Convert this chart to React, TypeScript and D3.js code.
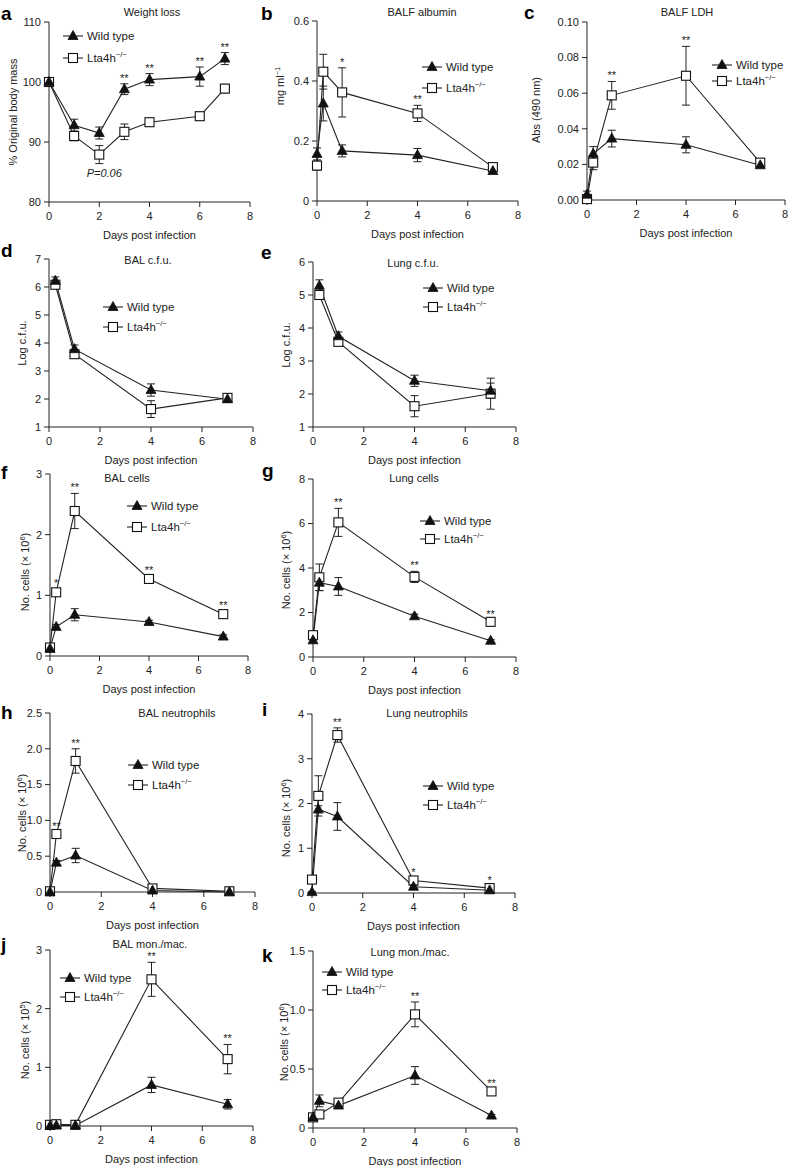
import React from 'react';
import * as d3 from 'd3';

// ---- data ----
const DAYS_WEIGHT = [0, 1, 2, 3, 4, 6, 7];
const DAYS_BALF = [0, 0.25, 1, 4, 7];
const DAYS_CFU = [0.25, 1, 4, 7];
const DAYS_CELLS = [0, 0.25, 1, 4, 7];

const WEIGHT_WT = [100, 92.8, 91.5, 98.8, 100.4, 100.9, 103.9];
const WEIGHT_WT_ERR = [0.3, 1.0, 1.0, 0.9, 1.0, 1.6, 1.0];
const WEIGHT_KO = [100, 91.0, 87.9, 91.7, 93.3, 94.3, 98.9];
const WEIGHT_KO_ERR = [0.3, 0.8, 1.5, 1.3, 0.5, 0.5, 0.7];

const ALB_WT = [0.157, 0.325, 0.167, 0.153, 0.1];
const ALB_WT_ERR = [0.02, 0.058, 0.02, 0.022, 0.008];
const ALB_KO = [0.118, 0.431, 0.362, 0.292, 0.113];
const ALB_KO_ERR = [0.015, 0.058, 0.082, 0.027, 0.01];

const LDH_WT = [0.003, 0.026, 0.0345, 0.031, 0.0195];
const LDH_WT_ERR = [0.002, 0.004, 0.0047, 0.0045, 0.001];
const LDH_KO = [0.0005, 0.021, 0.0588, 0.0698, 0.021];
const LDH_KO_ERR = [0.001, 0.004, 0.0078, 0.0165, 0.001];

const BALCFU_WT = [6.22, 3.78, 2.32, 1.99];
const BALCFU_WT_ERR = [0.14, 0.15, 0.22, 0.05];
const BALCFU_KO = [6.08, 3.6, 1.64, 2.04];
const BALCFU_KO_ERR = [0.12, 0.08, 0.3, 0.1];

const LUNGCFU_WT = [5.28, 3.75, 2.4, 2.1];
const LUNGCFU_WT_ERR = [0.18, 0.13, 0.17, 0.23];
const LUNGCFU_KO = [5.0, 3.58, 1.63, 2.01];
const LUNGCFU_KO_ERR = [0.1, 0.07, 0.32, 0.47];

const BALCELLS_WT = [0.12, 0.48, 0.68, 0.56, 0.32];
const BALCELLS_WT_ERR = [0.03, 0.04, 0.1, 0.03, 0.03];
const BALCELLS_KO = [0.14, 1.05, 2.39, 1.27, 0.69];
const BALCELLS_KO_ERR = [0.05, 0.05, 0.29, 0.05, 0.05];

const LUNGCELLS_WT = [0.75, 3.34, 3.17, 1.83, 0.73];
const LUNGCELLS_WT_ERR = [0.1, 0.35, 0.4, 0.1, 0.05];
const LUNGCELLS_KO = [0.98, 3.58, 6.05, 3.6, 1.58];
const LUNGCELLS_KO_ERR = [0.1, 0.6, 0.63, 0.25, 0.1];

const BALNEU_WT = [0.0, 0.41, 0.51, 0.02, 0.0];
const BALNEU_WT_ERR = [0.01, 0.03, 0.1, 0.01, 0.01];
const BALNEU_KO = [0.01, 0.81, 1.83, 0.05, 0.01];
const BALNEU_KO_ERR = [0.01, 0.03, 0.17, 0.02, 0.01];

const LUNGNEU_WT = [0.02, 1.87, 1.71, 0.14, 0.06];
const LUNGNEU_WT_ERR = [0.01, 0.08, 0.31, 0.03, 0.02];
const LUNGNEU_KO = [0.3, 2.17, 3.53, 0.28, 0.11];
const LUNGNEU_KO_ERR = [0.03, 0.45, 0.16, 0.05, 0.04];

const BALMAC_WT = [0.0, 0.01, 0.01, 0.7, 0.37];
const BALMAC_WT_ERR = [0.01, 0.01, 0.01, 0.13, 0.08];
const BALMAC_KO = [0.02, 0.03, 0.02, 2.5, 1.14];
const BALMAC_KO_ERR = [0.02, 0.02, 0.02, 0.29, 0.25];

const LUNGMAC_WT = [0.09, 0.23, 0.19, 0.445, 0.105];
const LUNGMAC_WT_ERR = [0.02, 0.05, 0.02, 0.075, 0.01];
const LUNGMAC_KO = [0.09, 0.115, 0.215, 0.963, 0.31];
const LUNGMAC_KO_ERR = [0.02, 0.03, 0.02, 0.105, 0.02];

const X_TICKS = [0, 2, 4, 6, 8];
const X_LABEL = 'Days post infection';
const WT_LABEL = 'Wild type';

const FONT = "'Liberation Sans', Arial, Helvetica, sans-serif";

type Star = { x: number; t: string };
type PanelDef = {
  letter: string;
  title: string;
  ylabel: string;
  ysup?: string;
  ytail?: string;
  days: number[];
  wt: number[];
  wtErr: number[];
  ko: number[];
  koErr: number[];
  yDomain: [number, number];
  yTicks: number[];
  yFmt: (v: number) => string;
  stars: Star[];
  note?: { x: number; y: number; t: string };
  // layout
  x0: number; x1: number; yt: number; yb: number;
  lx: number; ly: number; ly2: number;
  tx: number; ty: number;
  letterX: number; letterY: number;
  ylx: number; yly: number;
};

const plain = (v: number) => String(v);
const oneDec = (v: number) => (v === 0 ? '0' : d3.format('.1f')(v));
const twoDec = d3.format('.2f');

const PANELS: PanelDef[] = [
  {
    letter: 'a', title: 'Weight loss', ylabel: '% Original body mass',
    days: DAYS_WEIGHT, wt: WEIGHT_WT, wtErr: WEIGHT_WT_ERR, ko: WEIGHT_KO, koErr: WEIGHT_KO_ERR,
    yDomain: [80, 110], yTicks: [80, 90, 100, 110], yFmt: plain,
    stars: [{ x: 3, t: '**' }, { x: 4, t: '**' }, { x: 6, t: '**' }, { x: 7, t: '**' }],
    note: { x: 2.2, y: 84.8, t: 'P=0.06' },
    x0: 49, x1: 250, yt: 22, yb: 202, lx: 73, ly: 36, ly2: 58, tx: 152, ty: 16,
    letterX: 1, letterY: 20, ylx: 13, yly: 112,
  },
  {
    letter: 'b', title: 'BALF albumin', ylabel: 'mg ml', ysup: '\u22121',
    days: DAYS_BALF, wt: ALB_WT, wtErr: ALB_WT_ERR, ko: ALB_KO, koErr: ALB_KO_ERR,
    yDomain: [0, 0.6], yTicks: [0, 0.2, 0.4, 0.6], yFmt: plain,
    stars: [{ x: 1, t: '*' }, { x: 4, t: '**' }],
    x0: 317, x1: 518, yt: 21, yb: 201, lx: 432, ly: 67, ly2: 88, tx: 422, ty: 16,
    letterX: 261, letterY: 20, ylx: 280, yly: 86,
  },
  {
    letter: 'c', title: 'BALF LDH', ylabel: 'Abs (490 nm)',
    days: DAYS_BALF, wt: LDH_WT, wtErr: LDH_WT_ERR, ko: LDH_KO, koErr: LDH_KO_ERR,
    yDomain: [0, 0.1], yTicks: [0, 0.02, 0.04, 0.06, 0.08, 0.1], yFmt: twoDec,
    stars: [{ x: 1, t: '**' }, { x: 4, t: '**' }],
    x0: 587, x1: 785, yt: 22, yb: 200, lx: 722, ly: 65, ly2: 81, tx: 687, ty: 16,
    letterX: 524, letterY: 19, ylx: 536, yly: 110,
  },
  {
    letter: 'd', title: 'BAL c.f.u.', ylabel: 'Log c.f.u.',
    days: DAYS_CFU, wt: BALCFU_WT, wtErr: BALCFU_WT_ERR, ko: BALCFU_KO, koErr: BALCFU_KO_ERR,
    yDomain: [1, 7], yTicks: [1, 2, 3, 4, 5, 6, 7], yFmt: plain, stars: [],
    x0: 49, x1: 253, yt: 259, yb: 427, lx: 113, ly: 307, ly2: 327, tx: 148, ty: 264,
    letterX: 1, letterY: 257, ylx: 22, yly: 343,
  },
  {
    letter: 'e', title: 'Lung c.f.u.', ylabel: 'Log c.f.u.',
    days: DAYS_CFU, wt: LUNGCFU_WT, wtErr: LUNGCFU_WT_ERR, ko: LUNGCFU_KO, koErr: LUNGCFU_KO_ERR,
    yDomain: [1, 6], yTicks: [1, 2, 3, 4, 5, 6], yFmt: plain, stars: [],
    x0: 313, x1: 516, yt: 262, yb: 427, lx: 433, ly: 288, ly2: 307, tx: 413, ty: 267,
    letterX: 261, letterY: 259, ylx: 286, yly: 345,
  },
  {
    letter: 'f', title: 'BAL cells', ylabel: 'No. cells (\u00d7 10', ysup: '6', ytail: ')',
    days: DAYS_CELLS, wt: BALCELLS_WT, wtErr: BALCELLS_WT_ERR, ko: BALCELLS_KO, koErr: BALCELLS_KO_ERR,
    yDomain: [0, 3], yTicks: [0, 1, 2, 3], yFmt: plain,
    stars: [{ x: 0.25, t: '*' }, { x: 1, t: '**' }, { x: 4, t: '**' }, { x: 7, t: '**' }],
    x0: 50, x1: 248, yt: 474, yb: 656, lx: 137, ly: 506, ly2: 527, tx: 127, ty: 482,
    letterX: 1, letterY: 479, ylx: 25, yly: 572,
  },
  {
    letter: 'g', title: 'Lung cells', ylabel: 'No. cells (\u00d7 10', ysup: '6', ytail: ')',
    days: DAYS_CELLS, wt: LUNGCELLS_WT, wtErr: LUNGCELLS_WT_ERR, ko: LUNGCELLS_KO, koErr: LUNGCELLS_KO_ERR,
    yDomain: [0, 8], yTicks: [0, 2, 4, 6, 8], yFmt: plain,
    stars: [{ x: 1, t: '**' }, { x: 4, t: '**' }, { x: 7, t: '**' }],
    x0: 313, x1: 516, yt: 479, yb: 657, lx: 430, ly: 521, ly2: 539, tx: 414, ty: 482,
    letterX: 262, letterY: 477, ylx: 286, yly: 570,
  },
  {
    letter: 'h', title: 'BAL neutrophils', ylabel: 'No. cells (\u00d7 10', ysup: '6', ytail: ')',
    days: DAYS_CELLS, wt: BALNEU_WT, wtErr: BALNEU_WT_ERR, ko: BALNEU_KO, koErr: BALNEU_KO_ERR,
    yDomain: [0, 2.5], yTicks: [0, 0.5, 1, 1.5, 2, 2.5], yFmt: oneDec,
    stars: [{ x: 0.25, t: '**' }, { x: 1, t: '**' }],
    x0: 50, x1: 255, yt: 713, yb: 892, lx: 138, ly: 765, ly2: 785, tx: 177, ty: 717,
    letterX: 1, letterY: 719, ylx: 22, yly: 813,
  },
  {
    letter: 'i', title: 'Lung neutrophils', ylabel: 'No. cells (\u00d7 10', ysup: '6', ytail: ')',
    days: DAYS_CELLS, wt: LUNGNEU_WT, wtErr: LUNGNEU_WT_ERR, ko: LUNGNEU_KO, koErr: LUNGNEU_KO_ERR,
    yDomain: [0, 4], yTicks: [0, 1, 2, 3, 4], yFmt: plain,
    stars: [{ x: 1, t: '**' }, { x: 4, t: '*' }, { x: 7, t: '*' }],
    x0: 312, x1: 515, yt: 714, yb: 893, lx: 433, ly: 786, ly2: 805, tx: 427, ty: 717,
    letterX: 262, letterY: 716, ylx: 286, yly: 818,
  },
  {
    letter: 'j', title: 'BAL mon./mac.', ylabel: 'No. cells (\u00d7 10', ysup: '5', ytail: ')',
    days: DAYS_CELLS, wt: BALMAC_WT, wtErr: BALMAC_WT_ERR, ko: BALMAC_KO, koErr: BALMAC_KO_ERR,
    yDomain: [0, 3], yTicks: [0, 1, 2, 3], yFmt: plain,
    stars: [{ x: 4, t: '**' }, { x: 7, t: '**' }],
    x0: 50, x1: 253, yt: 950, yb: 1126, lx: 70, ly: 978, ly2: 997, tx: 150, ty: 948,
    letterX: 1, letterY: 951, ylx: 25, yly: 1040,
  },
  {
    letter: 'k', title: 'Lung mon./mac.', ylabel: 'No. cells (\u00d7 10', ysup: '6', ytail: ')',
    days: DAYS_CELLS, wt: LUNGMAC_WT, wtErr: LUNGMAC_WT_ERR, ko: LUNGMAC_KO, koErr: LUNGMAC_KO_ERR,
    yDomain: [0, 1.5], yTicks: [0, 0.5, 1, 1.5], yFmt: oneDec,
    stars: [{ x: 4, t: '**' }, { x: 7, t: '**' }],
    x0: 313, x1: 517, yt: 951, yb: 1128, lx: 332, ly: 972, ly2: 990, tx: 410, ty: 956,
    letterX: 262, letterY: 962, ylx: 284, yly: 1042,
  },
];

const TRI = 'M0,-5.5L5,3.5L-5,3.5Z';

function Marker({ cx, cy, kind }: { cx: number; cy: number; kind: 'wt' | 'ko' }) {
  if (kind === 'wt') {
    return <path d={TRI} transform={`translate(${cx},${cy})`} fill="#111" stroke="#111" strokeWidth={0.8} />;
  }
  return <rect x={cx - 4.5} y={cy - 4.5} width={9} height={9} fill="#fff" stroke="#111" strokeWidth={1.1} />;
}

function Panel({ p }: { p: PanelDef }) {
  const x = d3.scaleLinear().domain([0, 8]).range([p.x0, p.x1]);
  const y = d3.scaleLinear().domain(p.yDomain).range([p.yb, p.yt]);
  const line = d3.line<number>().x((_, i) => x(p.days[i])).y((v) => y(v));

  const series = [
    { kind: 'ko' as const, vals: p.ko, errs: p.koErr },
    { kind: 'wt' as const, vals: p.wt, errs: p.wtErr },
  ];

  // asterisks sit just above the highest error bar at that day
  const starY = (dx: number) => {
    const i = p.days.indexOf(dx);
    const top = Math.max(p.wt[i] + p.wtErr[i], p.ko[i] + p.koErr[i]);
    return y(top) - 2;
  };

  return (
    <g fontFamily={FONT} fill="#222">
      <text x={p.letterX} y={p.letterY} fontSize={19} fontWeight="bold" fill="#000">{p.letter}</text>
      <text x={p.tx} y={p.ty} fontSize={11} textAnchor="middle">{p.title}</text>

      {/* axes */}
      <line x1={p.x0} x2={p.x0} y1={p.yt} y2={p.yb} stroke="#222" strokeWidth={1} />
      <line x1={p.x0} x2={p.x1} y1={p.yb} y2={p.yb} stroke="#222" strokeWidth={1} />
      {p.yTicks.map((t) => (
        <g key={'y' + t}>
          <line x1={p.x0 - 5} x2={p.x0} y1={y(t)} y2={y(t)} stroke="#222" />
          <text x={p.x0 - 8} y={y(t)} dy="0.35em" fontSize={11} textAnchor="end">{p.yFmt(t)}</text>
        </g>
      ))}
      {X_TICKS.map((t) => (
        <g key={'x' + t}>
          <line x1={x(t)} x2={x(t)} y1={p.yb} y2={p.yb + 5} stroke="#222" />
          <text x={x(t)} y={p.yb + 18} fontSize={11} textAnchor="middle">{t}</text>
        </g>
      ))}
      <text x={(p.x0 + p.x1) / 2} y={p.yb + 37} fontSize={11} textAnchor="middle">{X_LABEL}</text>
      <text transform={`translate(${p.ylx},${p.yly}) rotate(-90)`} fontSize={11} textAnchor="middle" dy="0.35em">
        {p.ylabel}
        {p.ysup && <tspan dy={-4} fontSize={7.5}>{p.ysup}</tspan>}
        {p.ytail && <tspan dy={4}>{p.ytail}</tspan>}
      </text>

      {/* lines */}
      {series.map((s) => (
        <path key={'l' + s.kind} d={line(s.vals) || ''} fill="none" stroke="#222" strokeWidth={1.1} />
      ))}
      {/* error bars */}
      {series.map((s) =>
        s.vals.map((v, i) => {
          const cx = x(p.days[i]);
          const hi = y(v + s.errs[i]);
          const lo = y(v - s.errs[i]);
          return (
            <g key={`e${s.kind}${i}`} stroke="#222" strokeWidth={1}>
              <line x1={cx} x2={cx} y1={hi} y2={lo} />
              <line x1={cx - 4} x2={cx + 4} y1={hi} y2={hi} />
              <line x1={cx - 4} x2={cx + 4} y1={lo} y2={lo} />
            </g>
          );
        })
      )}
      {/* markers */}
      {series.map((s) =>
        s.vals.map((v, i) => <Marker key={`m${s.kind}${i}`} cx={x(p.days[i])} cy={y(v)} kind={s.kind} />)
      )}

      {/* significance */}
      {p.stars.map((s) => (
        <text key={'s' + s.x} x={x(s.x)} y={starY(s.x)} fontSize={11} textAnchor="middle">{s.t}</text>
      ))}
      {p.note && (
        <text x={x(p.note.x)} y={y(p.note.y)} dy="0.35em" fontSize={11} fontStyle="italic" textAnchor="middle">{p.note.t}</text>
      )}

      {/* legend */}
      <line x1={p.lx - 10} x2={p.lx + 10} y1={p.ly} y2={p.ly} stroke="#222" strokeWidth={1.1} />
      <Marker cx={p.lx} cy={p.ly} kind="wt" />
      <text x={p.lx + 14} y={p.ly} dy="0.35em" fontSize={11.5}>{WT_LABEL}</text>
      <line x1={p.lx - 10} x2={p.lx + 10} y1={p.ly2} y2={p.ly2} stroke="#222" strokeWidth={1.1} />
      <Marker cx={p.lx} cy={p.ly2} kind="ko" />
      <text x={p.lx + 14} y={p.ly2} dy="0.35em" fontSize={11.5}>
        Lta4h<tspan dy={-5} fontSize={7.5}>{'\u2212/\u2212'}</tspan>
      </text>
    </g>
  );
}

export default function App() {
  return (
    <svg width={788} height={1166} style={{ display: 'block', position: 'absolute', left: 0, top: 0 }}>
      <rect width={788} height={1166} fill="#fff" />
      {PANELS.map((p) => (
        <Panel key={p.letter} p={p} />
      ))}
    </svg>
  );
}
